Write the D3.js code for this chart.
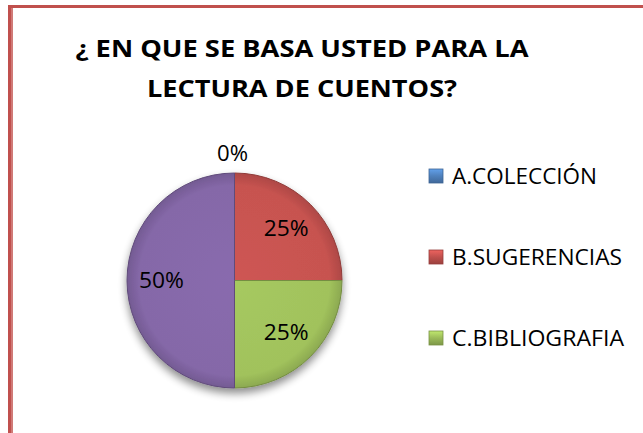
<!DOCTYPE html>
<html>
<head>
<meta charset="utf-8">
<script src="https://d3js.org/d3.v7.min.js"></script>
<style>
  body { margin: 0; background: #fff; }
  text { font-family: "Open Sans", sans-serif; fill: #000; }
</style>
</head>
<body>
<script>
// chart data
var categories = ["A.COLECCIÓN", "B.SUGERENCIAS", "C.BIBLIOGRAFIA", ""];
var values = [0, 25, 25, 50];
var colors = ["#4F81BD", "#C0504D", "#9BBB59", "#8064A2"];
var titleLines = ["¿ EN QUE SE BASA USTED PARA LA", "LECTURA DE CUENTOS?"];

var W = 643, H = 433;
var svg = d3.select("body").append("svg").attr("width", W).attr("height", H);
var defs = svg.append("defs");

// soft shadow under the pie
var sh = defs.append("filter").attr("id", "shadow")
  .attr("x", "-20%").attr("y", "-20%").attr("width", "140%").attr("height", "150%");
sh.append("feGaussianBlur").attr("in", "SourceAlpha").attr("stdDeviation", 4).attr("result", "b");
sh.append("feOffset").attr("in", "b").attr("dy", 5).attr("result", "o");
sh.append("feComponentTransfer").attr("in", "o").attr("result", "o2")
  .append("feFuncA").attr("type", "linear").attr("slope", 0.45);
var m = sh.append("feMerge");
m.append("feMergeNode").attr("in", "o2");
m.append("feMergeNode").attr("in", "SourceGraphic");

// gradient per colour for a bevel look
colors.forEach(function(c, i) {
  var g = defs.append("radialGradient").attr("id", "g" + i)
    .attr("gradientUnits", "userSpaceOnUse").attr("cx", 0).attr("cy", 0).attr("r", 108);
  g.append("stop").attr("offset", "0%").attr("stop-color", d3.color(c).brighter(0.2));
  g.append("stop").attr("offset", "88%").attr("stop-color", d3.color(c).brighter(0.1));
  g.append("stop").attr("offset", "100%").attr("stop-color", d3.color(c).darker(0.3));
  var k = defs.append("linearGradient").attr("id", "k" + i)
    .attr("x1", 0).attr("y1", 0).attr("x2", 0).attr("y2", 1);
  k.append("stop").attr("offset", "0%").attr("stop-color", d3.color(c).brighter(0.6));
  k.append("stop").attr("offset", "50%").attr("stop-color", c);
  k.append("stop").attr("offset", "100%").attr("stop-color", d3.color(c).darker(0.6));
});

// border (left and top)
svg.append("rect").attr("x", 8).attr("y", 5).attr("width", 5).attr("height", H - 5).attr("fill", "#C0504D");
svg.append("rect").attr("x", 8).attr("y", 5).attr("width", W - 8).attr("height", 3).attr("fill", "#C0504D");
svg.append("rect").attr("x", 11).attr("y", 8).attr("width", 2).attr("height", H - 8).attr("fill", "#D07a77");

// title
var title = svg.append("g").attr("font-weight", "bold").attr("font-size", 22.5);
title.selectAll("text").data(titleLines).join("text")
  .attr("x", 302).attr("y", function(d, i) { return 57 + i * 40; })
  .attr("text-anchor", "middle")
  .attr("textLength", function(d, i) { return i === 0 ? 453 : 310; })
  .attr("lengthAdjust", "spacingAndGlyphs")
  .text(function(d) { return d; });

// pie
var r = 107.5;
var pieG = svg.append("g").attr("transform", "translate(234.5,280.5)");
var pie = d3.pie().sort(null).value(function(d) { return d; });
var arcs = pie(values);
var arc = d3.arc().innerRadius(0).outerRadius(r);
var labelArc = d3.arc().innerRadius(r * 0.68).outerRadius(r * 0.68);

pieG.append("g").attr("filter", "url(#shadow)")
  .selectAll("path").data(arcs).join("path")
  .attr("d", arc)
  .attr("fill", function(d, i) { return "url(#g" + i + ")"; })
  .attr("stroke", function(d, i) { return d3.color(colors[i]).darker(0.8); })
  .attr("stroke-width", 1);

var total = d3.sum(values);
pieG.selectAll("text.lbl").data(arcs).join("text").attr("class", "lbl")
  .attr("transform", function(d) {
    if (d.value === 0) {
      var a = d.startAngle;
      return "translate(" + (Math.sin(a) * (r + 20) - 2) + "," + (-Math.cos(a) * (r + 20)) + ")";
    }
    return "translate(" + labelArc.centroid(d) + ")";
  })
  .attr("text-anchor", "middle").attr("dy", "0.35em")
  .attr("font-size", 21.5)
  .attr("textLength", function(d) { return d.value === 0 ? 31 : 45; })
  .attr("lengthAdjust", "spacingAndGlyphs")
  .text(function(d) { return Math.round(d.value / total * 100) + "%"; });

// legend (first three categories)
var legend = svg.append("g").attr("transform", "translate(429,176)");
var items = legend.selectAll("g").data(categories.slice(0, 3)).join("g")
  .attr("transform", function(d, i) { return "translate(0," + (i * 81) + ")"; });
items.append("rect").attr("x", 0).attr("y", -7).attr("width", 14).attr("height", 14)
  .attr("fill", function(d, i) { return "url(#k" + i + ")"; })
  .attr("stroke", function(d, i) { return d3.color(colors[i]).darker(0.7); })
  .attr("stroke-width", 0.8);
var lens = [145, 170, 172];
items.append("text").attr("x", 23).attr("y", 8)
  .attr("font-size", 22.5)
  .attr("textLength", function(d, i) { return lens[i]; })
  .attr("lengthAdjust", "spacingAndGlyphs")
  .text(function(d) { return d; });
</script>
</body>
</html>
